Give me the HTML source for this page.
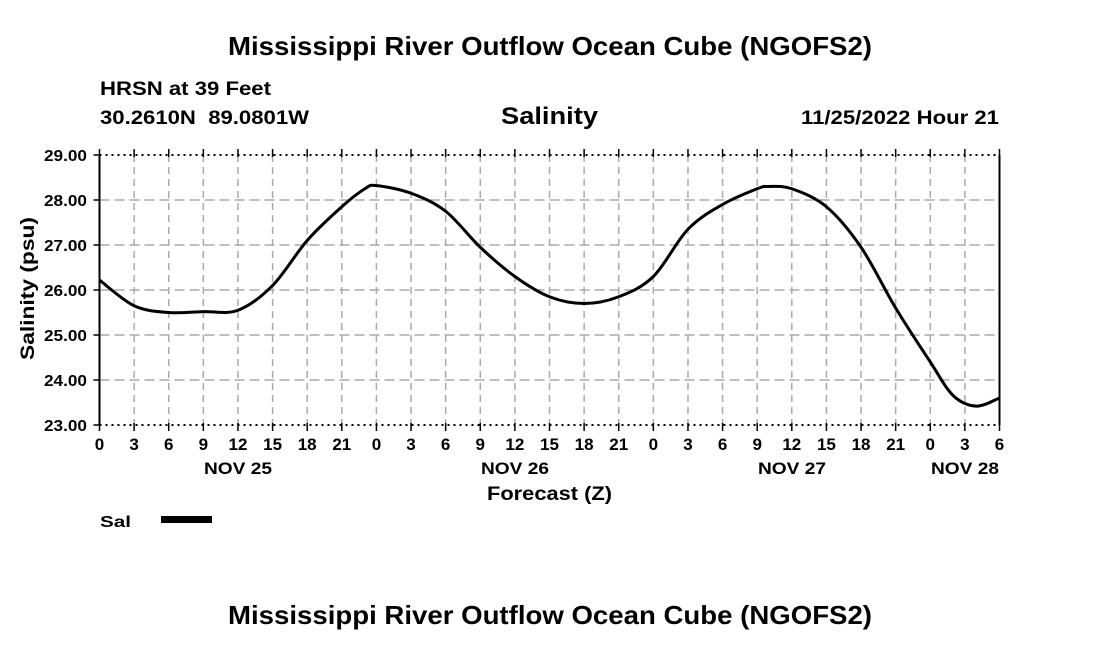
<!DOCTYPE html>
<html><head><meta charset="utf-8"><style>
body{margin:0;background:#fff;width:1100px;height:650px;overflow:hidden}
svg text{font-family:"Liberation Sans",Arial,sans-serif;font-weight:bold;fill:#000}
</style></head><body>
<svg id="s" width="1100" height="650" viewBox="0 0 1100 650" xmlns="http://www.w3.org/2000/svg">
<text x="228" y="55" font-size="26" textLength="644" lengthAdjust="spacingAndGlyphs">Mississippi River Outflow Ocean Cube (NGOFS2)</text>
<text x="100" y="95" font-size="19" textLength="171" lengthAdjust="spacingAndGlyphs">HRSN at 39 Feet</text>
<text x="100" y="124" font-size="19" textLength="209" lengthAdjust="spacingAndGlyphs" xml:space="preserve">30.2610N  89.0801W</text>
<text x="501" y="124" font-size="24" textLength="97" lengthAdjust="spacingAndGlyphs">Salinity</text>
<text x="801" y="124" font-size="19" textLength="198" lengthAdjust="spacingAndGlyphs">11/25/2022 Hour 21</text>
<g id="grid"></g>
<line x1="99.5" y1="155" x2="999.5" y2="155" stroke="#000" stroke-width="2" stroke-dasharray="2,4"/>
<line x1="99.5" y1="425" x2="999.5" y2="425" stroke="#000" stroke-width="2" stroke-dasharray="2,4"/>
<line x1="99.5" y1="155" x2="99.5" y2="425" stroke="#000" stroke-width="2"/>
<line x1="999.5" y1="155" x2="999.5" y2="425" stroke="#000" stroke-width="2"/>
<path id="curve" fill="none" stroke="#000" stroke-width="3"/>
<text x="204" y="474" font-size="17" textLength="68" lengthAdjust="spacingAndGlyphs">NOV 25</text>
<text x="481" y="474" font-size="17" textLength="68" lengthAdjust="spacingAndGlyphs">NOV 26</text>
<text x="758" y="474" font-size="17" textLength="68" lengthAdjust="spacingAndGlyphs">NOV 27</text>
<text x="931" y="474" font-size="17" textLength="68" lengthAdjust="spacingAndGlyphs">NOV 28</text>
<text x="487" y="500" font-size="19" textLength="125" lengthAdjust="spacingAndGlyphs">Forecast (Z)</text>
<text transform="translate(34,360) rotate(-90)" font-size="19" textLength="143" lengthAdjust="spacingAndGlyphs">Salinity (psu)</text>
<text x="100" y="527" font-size="16" textLength="31" lengthAdjust="spacingAndGlyphs">Sal</text>
<rect x="161" y="516" width="51" height="7" fill="#000"/>
<text x="228" y="624" font-size="26" textLength="644" lengthAdjust="spacingAndGlyphs">Mississippi River Outflow Ocean Cube (NGOFS2)</text>
</svg>
<script>
var NS="http://www.w3.org/2000/svg",g=document.getElementById('grid'),s=document.getElementById('s');
function el(t,a,p){var e=document.createElementNS(NS,t);for(var k in a)e.setAttribute(k,a[k]);(p||g).appendChild(e);return e;}
var L=99.5,R=999.5,T=155,B=425,dx=(R-L)/26;
for(var i=0;i<=26;i++){var x=L+i*dx;
 if(i>0&&i<26)el('line',{x1:x,y1:T,x2:x,y2:B,stroke:'#aaa','stroke-width':1.5,'stroke-dasharray':'7,5'});
 el('line',{x1:x,y1:T-6,x2:x,y2:T+2,stroke:'#000','stroke-width':1.5});
 el('line',{x1:x,y1:B-2,x2:x,y2:B+6,stroke:'#000','stroke-width':1.5});
 var t=el('text',{x:x,y:450,'font-size':17,'text-anchor':'middle'});t.textContent=((i*3)%24);}
for(var j=0;j<=6;j++){var y=T+j*45;
 if(j>0&&j<6)el('line',{x1:L,y1:y,x2:R,y2:y,stroke:'#aaa','stroke-width':1.5,'stroke-dasharray':'10,5'});
 el('line',{x1:L-6,y1:y,x2:L,y2:y,stroke:'#000','stroke-width':1.5});
 var t=el('text',{x:44,y:y+6,'font-size':16,textLength:43,lengthAdjust:'spacingAndGlyphs'});t.textContent=(29-j).toFixed(2);}
var d=[[0,26.22],[3,25.65],[6,25.5],[9,25.52],[12,25.55],[15,26.1],[18,27.1],[21,27.85],[23,28.25],[24,28.32],[27,28.15],[30,27.75],[33,26.95],[36,26.3],[39,25.85],[42,25.7],[45,25.85],[48,26.3],[51,27.35],[54,27.9],[57,28.25],[58,28.3],[60,28.25],[63,27.85],[66,26.95],[69,25.6],[72,24.4],[74,23.65],[76,23.42],[78,23.6]];
var P=d.map(function(p){return [L+p[0]*(R-L)/78,T+(29-p[1])*45];});
var str='M'+P[0][0]+','+P[0][1];
for(var i=0;i<P.length-1;i++){var p0=P[Math.max(i-1,0)],p1=P[i],p2=P[i+1],p3=P[Math.min(i+2,P.length-1)];
 str+=' C'+(p1[0]+(p2[0]-p0[0])/6)+','+(p1[1]+(p2[1]-p0[1])/6)+' '+(p2[0]-(p3[0]-p1[0])/6)+','+(p2[1]-(p3[1]-p1[1])/6)+' '+p2[0]+','+p2[1];}
document.getElementById('curve').setAttribute('d',str);
</script>
</body></html>
